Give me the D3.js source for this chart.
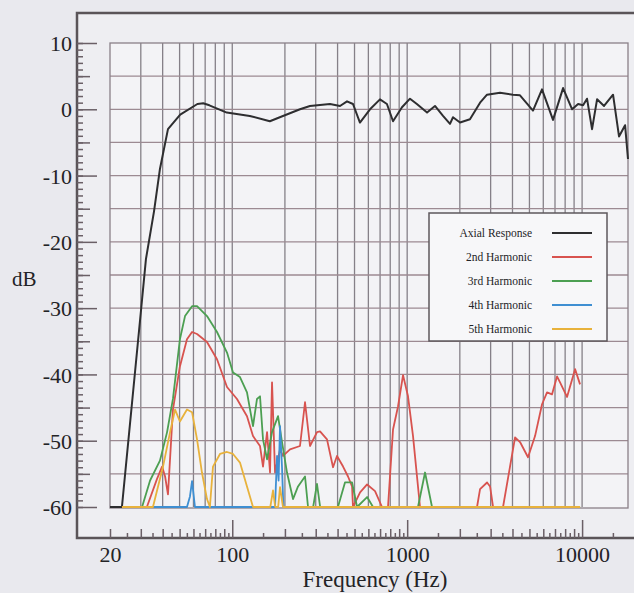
<!DOCTYPE html>
<html>
  <head>
    <meta charset="utf-8" />
    <title>Axial response and harmonics</title>
    <script src="https://cdn.jsdelivr.net/npm/d3@7"></script>
    <style>
      html, body { margin: 0; padding: 0; background: #e9e9ee; }
      svg { display: block; }
      text { font-family: "Liberation Serif", "DejaVu Serif", serif; fill: #232326; }
    </style>
  </head>
  <body>
    <script>
      // values (frequency in Hz, level in dB)
      const axial = [
        [20, -60], [23.4, -60], [30.5, -28.7], [32.1, -22.6], [35.7, -15.4], [38.6, -9],
        [42.9, -3.0], [50.4, -0.8], [63.2, 0.8], [68.2, 0.9], [74, 0.6], [93, -0.5],
        [126, -1.0], [164, -1.8], [187, -1.2], [244, 0], [278, 0.5], [362, 0.8],
        [413, 0.5], [453, 1.2], [490, 0.8], [537, -2.0], [613, 0], [699, 1.5],
        [766, 0.8], [830, -1.8], [934, 0.3], [1038, 1.6], [1136, 0.8], [1299, -0.5],
        [1442, 0.5], [1603, -1.0], [1757, -2.2], [1828, -1.2], [2005, -2.0], [2285, -1.5],
        [2610, 1.0], [2860, 2.2], [3396, 2.5], [4025, 2.2], [4415, 2.1], [5240, -0.2],
        [5900, 3.0], [6820, -1.6], [7785, 3.2], [8770, 0], [9490, 0.8], [10130, 0.6],
        [10670, 1.6], [11400, -3.0], [12180, 1.5], [13350, 0.5], [15030, 2.2],
        [16260, -4.1], [17610, -2.4], [18300, -7.5]
      ];
      const harm2 = [
        [32.5, -60], [37.1, -55.8], [39.7, -53.9], [41.3, -55.4], [42.9, -58.1], [45.8, -45.3],
        [50.2, -38.8], [55.1, -34.7], [58.9, -33.6], [62.9, -33.9], [71.7, -35.1], [81.8, -37.7],
        [93.3, -41.9], [106.4, -43.7], [121.4, -46.3], [131.4, -49.3], [144.1, -50.8],
        [149.9, -53.9], [158.1, -48.7], [164.4, -54.8], [168.8, -41.2], [175.6, -54.8],
        [187.5, -51.3], [195, -52.3], [213.9, -51.3], [243.9, -50.8], [260.6, -44.2],
        [278.3, -50.8], [305.2, -48.7], [317.5, -48.6], [348, -49.8], [376.8, -54.0],
        [397, -52.3], [430, -53.9], [459, -55.4], [484, -56.9], [490, -60], [538, -57.8],
        [590, -56.6], [655, -57.6], [718, -60], [777, -60], [830, -48.3], [887, -44.8],
        [947, -40.1], [1011, -43.3], [1080, -49.3], [1184, -60], [2508, -60], [2610, -57.3],
        [2862, -56.3], [2978, -56.9], [3097, -60], [3532, -60], [4138, -49.5], [4417, -50.2],
        [4907, -52.5], [5383, -49.3], [5903, -44.5], [6303, -42.7], [6732, -43.0],
        [7190, -40.3], [7480, -41.2], [8202, -43.4], [9116, -39.2], [9736, -41.5]
      ];
      const harm3 = [
        [30.5, -60], [33.9, -56], [38.6, -53], [42.4, -48.7], [45.8, -43.7], [50.2, -34.7],
        [53.7, -31.2], [58.9, -29.7], [62.9, -29.7], [71.7, -31.2], [81.8, -33.6],
        [93.3, -36.7], [101, -39.7], [110.7, -40.4], [121.4, -42.7], [131.4, -47.8],
        [138.5, -43.7], [144.1, -43.3], [149.9, -49.8], [158.1, -52.8], [168.8, -48.7],
        [182.7, -46.3], [192.5, -50.2], [205.6, -54.8], [222.5, -58.8], [237.7, -56.9],
        [260.6, -55.4], [271.1, -60], [290, -60], [305, -56.5], [318, -60], [377, -60],
        [402, -60], [441, -56.3], [484, -56.3], [517, -60], [590, -58.5], [638, -60],
        [1153, -60], [1265, -54.8], [1387, -60], [9736, -60]
      ];
      const harm4 = [
        [33.9, -60], [55.1, -60], [57.3, -58.4], [58.9, -56.1], [61.2, -60], [175.6, -60],
        [180.3, -52.3], [184, -56], [187.5, -47.8], [192.5, -54], [196, -60], [262, -60]
      ];
      const harm5 = [
        [23.4, -60], [35.2, -60], [40.2, -53.9], [44.1, -48.7], [47.1, -45.3], [50.2, -47.1],
        [55.1, -45.3], [58.9, -45.7], [62.9, -49.8], [67.1, -54.8], [71.7, -58.8], [74.5, -60],
        [77.6, -53.9], [85.1, -52.0], [93.3, -51.7], [101, -52.0], [110.7, -53.3],
        [121.4, -56.9], [131.4, -60], [165, -60], [171, -57.5], [176, -60], [183, -60],
        [187.5, -57], [195, -60], [9736, -60]
      ];

      const seriesNames = ["Axial Response", "2nd Harmonic", "3rd Harmonic", "4th Harmonic", "5th Harmonic"];
      const seriesData = [axial, harm2, harm3, harm4, harm5];
      const seriesColors = ["#2e2e30", "#d8534f", "#4c9f52", "#3f8fd2", "#e8b23c"];

      const xTickLabels = [20, 100, 1000, 10000];
      const yTickLabels = [10, 0, -10, -20, -30, -40, -50, -60];

      const w = 634;
      const h = 593;

      const x = d3.scaleLog().domain([20, 18300]).range([110, 628]);
      const y = d3.scaleLinear().domain([-60, 10]).range([507, 43]);

      const svg = d3.select("body").append("svg")
        .attr("width", w)
        .attr("height", h);

      // outer frame of the gnuplot page
      svg.append("rect")
        .attr("x", 77).attr("y", 13)
        .attr("width", 600).attr("height", 525)
        .attr("fill", "#eeeef2");
      svg.append("path")
        .attr("d", "M640,13 H77 V538 H640")
        .attr("fill", "none")
        .attr("stroke", "#5a5458")
        .attr("stroke-width", 2.5);

      // inner plot box
      const x0 = x.range()[0], x1 = x.range()[1];
      const y0 = y(10), y1 = y(-60);
      svg.append("rect")
        .attr("x", x0).attr("y", y0)
        .attr("width", x1 - x0).attr("height", y1 - y0 + 1)
        .attr("fill", "#f3f3f6");

      // grid
      const vGrid = [];
      [10, 100, 1000].forEach(d => {
        for (let m = 1; m <= 9; m++) {
          const v = m * d;
          if (v > 20 && v <= 10000) vGrid.push(v);
        }
      });
      vGrid.push(10000);
      svg.append("g").selectAll("line")
        .data(vGrid)
        .enter().append("line")
        .attr("x1", d => x(d)).attr("x2", d => x(d))
        .attr("y1", y0).attr("y2", y1)
        .attr("stroke", "#858088")
        .attr("stroke-width", 1.3);
      svg.append("g").selectAll("line")
        .data(d3.range(-55, 10, 5))
        .enter().append("line")
        .attr("x1", x0).attr("x2", x1)
        .attr("y1", d => y(d)).attr("y2", d => y(d))
        .attr("stroke", "#9c8a92")
        .attr("stroke-width", 1.3);
      svg.append("rect")
        .attr("x", x0).attr("y", y0)
        .attr("width", x1 - x0).attr("height", y1 - y0 + 1)
        .attr("fill", "none")
        .attr("stroke", "#8a8088")
        .attr("stroke-width", 1.3);

      svg.append("clipPath").attr("id", "plot-clip")
        .append("rect")
        .attr("x", x0).attr("y", y0 - 2)
        .attr("width", x1 - x0 + 4).attr("height", y1 - y0 + 4);

      // curves
      const line = d3.line()
        .x(d => x(d[0]))
        .y(d => y(d[1]));

      const curves = svg.append("g").attr("clip-path", "url(#plot-clip)");
      seriesData.forEach((s, i) => {
        curves.append("path")
          .datum(s)
          .attr("d", line)
          .attr("fill", "none")
          .attr("stroke", seriesColors[i])
          .attr("stroke-width", i === 0 ? 2 : 1.8)
          .attr("stroke-linejoin", "round");
      });

      // y axis on the frame, ticks pointing inward
      const yAxisG = svg.append("g").attr("transform", "translate(77,0)");
      yAxisG.append("g")
        .call(d3.axisLeft(y).tickValues(d3.range(-60, 11, 1)).tickSize(-6).tickFormat(""));
      yAxisG.append("g")
        .call(d3.axisLeft(y).tickValues(d3.range(-55, 10, 10)).tickSize(-13).tickFormat(""));
      yAxisG.append("g")
        .call(d3.axisLeft(y).tickValues(yTickLabels).tickSize(-20).tickPadding(5).tickFormat(d => String(d)))
        .selectAll("text")
        .style("font-size", "22px")
        .attr("dy", "0.35em");
      yAxisG.selectAll(".domain").remove();
      yAxisG.selectAll(".tick line").attr("stroke", "#6a5f66").attr("stroke-width", 1.5);

      // x axis on the bottom of the frame
      const xMid = [], xSmall = [];
      [10, 100, 1000, 10000].forEach(d => {
        for (let m = 1.5; m < 10; m += 0.5) {
          const v = m * d;
          if (v < 20 || v > 18300) continue;
          if (m % 1 === 0) xMid.push(v); else xSmall.push(v);
        }
      });
      const xAxisG = svg.append("g").attr("transform", "translate(0,538)");
      xAxisG.append("g")
        .call(d3.axisBottom(x).tickValues(xSmall).tickSize(-5).tickFormat(""));
      xAxisG.append("g")
        .call(d3.axisBottom(x).tickValues(xMid).tickSize(-9).tickFormat(""));
      xAxisG.append("g")
        .call(d3.axisBottom(x).tickValues([100, 1000, 10000]).tickSize(-18).tickFormat(""));
      xAxisG.append("g")
        .call(d3.axisBottom(x).tickValues(xTickLabels).tickSize(0).tickPadding(8).tickFormat(d3.format("d")))
        .selectAll("text")
        .style("font-size", "22px");
      xAxisG.selectAll(".domain").remove();
      xAxisG.selectAll(".tick line").attr("stroke", "#6a5f66").attr("stroke-width", 1.5);

      // axis titles
      svg.append("text")
        .attr("x", 12).attr("y", 286)
        .style("font-size", "21px")
        .text("dB");
      svg.append("text")
        .attr("x", 375).attr("y", 587)
        .attr("text-anchor", "middle")
        .style("font-size", "23px")
        .text("Frequency (Hz)");

      // legend
      const legend = svg.append("g");
      legend.append("rect")
        .attr("x", 429).attr("y", 213)
        .attr("width", 178).attr("height", 128)
        .attr("fill", "#f7f7f9")
        .attr("stroke", "#5e585c")
        .attr("stroke-width", 1.5);
      seriesNames.forEach((name, i) => {
        const ly = 233 + i * 24;
        legend.append("text")
          .attr("x", 532).attr("y", ly)
          .attr("dy", "0.35em")
          .attr("text-anchor", "end")
          .style("font-size", "11.5px")
          .text(name);
        legend.append("line")
          .attr("x1", 552).attr("x2", 592)
          .attr("y1", ly).attr("y2", ly)
          .attr("stroke", seriesColors[i])
          .attr("stroke-width", i === 0 ? 2 : 1.8);
      });
    </script>
  </body>
</html>
